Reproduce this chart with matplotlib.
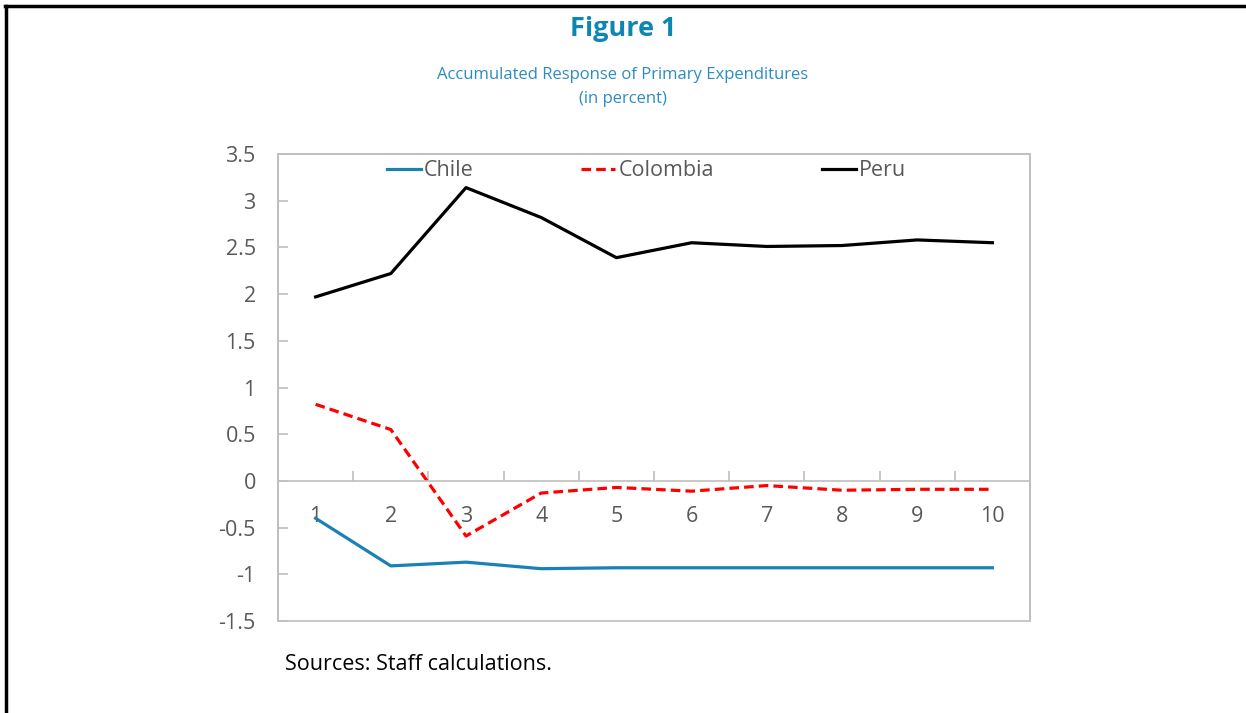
import matplotlib.pyplot as plt
from matplotlib.patches import Rectangle

plt.rcParams['font.family'] = ['Open Sans', 'DejaVu Sans']

periods = [1, 2, 3, 4, 5, 6, 7, 8, 9, 10]
chile = [-0.40, -0.91, -0.87, -0.94, -0.93, -0.93, -0.93, -0.93, -0.93, -0.93]
colombia = [0.82, 0.55, -0.59, -0.13, -0.07, -0.11, -0.05, -0.10, -0.09, -0.09]
peru = [1.97, 2.22, 3.14, 2.82, 2.39, 2.55, 2.51, 2.52, 2.58, 2.55]
yticks = [-1.5, -1, -0.5, 0, 0.5, 1, 1.5, 2, 2.5, 3, 3.5]

gray = '#BFBFBF'
txt = '#595959'
fs = 15.5

fig = plt.figure(figsize=(12.46, 7.13), dpi=100)
ax = fig.add_axes([278 / 1246, 1 - 621 / 713, 752 / 1246, 467 / 713])

ax.plot(periods, chile, color='#1B80B6', lw=2.3, label='Chile')
ax.plot(periods, colombia, color='#FF0000', lw=2.3, ls=(0, (3, 1.6)), label='Colombia')
ax.plot(periods, peru, color='black', lw=2.3, label='Peru')

ax.set_xlim(0.5, 10.5)
ax.set_ylim(-1.5, 3.5)

# category axis crosses at zero
ax.spines['bottom'].set_position(('data', 0))
for s in ax.spines.values():
    s.set_color(gray)
    s.set_linewidth(1.2)
ax.add_patch(Rectangle((0, 0), 1, 1, transform=ax.transAxes, fill=False,
                       edgecolor=gray, lw=1.2, zorder=0, clip_on=False))

ax.set_xticks(periods)
ax.set_xticks([p + 0.5 for p in periods[:-1]], minor=True)
ax.tick_params(axis='x', which='major', length=0, pad=18, labelsize=fs, labelcolor=txt)
ax.tick_params(axis='x', which='minor', direction='in', length=7, color=gray, width=1.2)
ax.set_yticks(yticks)
ax.set_yticklabels([f'{v:g}' for v in yticks])
ax.tick_params(axis='y', direction='in', length=7, color=gray, width=1.2,
               pad=16, labelsize=fs, labelcolor=txt)

leg = ax.legend(loc='upper center', ncol=3, frameon=False, fontsize=fs,
                handlelength=1.58, handletextpad=0.15, columnspacing=5.0,
                bbox_to_anchor=(0.49, 1.028))
for t in leg.get_texts():
    t.set_color(txt)

fig.text(0.5, 1 - 29 / 713, 'Figure 1', ha='center', va='center',
         fontsize=19.5, fontweight='bold', color='#0E86B2')
fig.text(0.5, 1 - 75 / 713, 'Accumulated Response of Primary Expenditures',
         ha='center', va='center', fontsize=12, color='#2B8CC4')
fig.text(0.5, 1 - 99 / 713, '(in percent)', ha='center', va='center',
         fontsize=12, color='#2B8CC4')
fig.text(285 / 1246, 1 - 664 / 713, 'Sources: Staff calculations.',
         ha='left', va='center', fontsize=fs, color='black')

# outer frame (top and left edges)
fig.add_artist(plt.Line2D([5 / 1246, 1], [1 - 6 / 713, 1 - 6 / 713], color='black', lw=2.5))
fig.add_artist(plt.Line2D([6 / 1246, 6 / 1246], [0, 1 - 6 / 713], color='black', lw=2.5))

fig.savefig('out.png', dpi=100)
